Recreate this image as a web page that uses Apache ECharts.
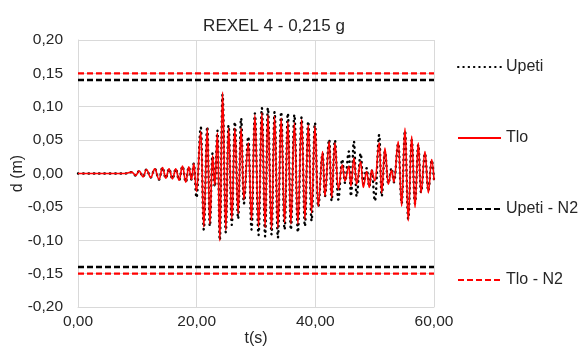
<!DOCTYPE html>
<html>
<head>
<meta charset="utf-8">
<script src="https://cdn.jsdelivr.net/npm/echarts@6/dist/echarts.min.js"></script>
<style>
html,body{margin:0;padding:0;background:#fff;}
#c{width:582px;height:349px;}
</style>
</head>
<body>
<div id="c"></div>
<script>
// Time (s) of read extremes
const timeS = [0, 7.88, 9.06, 9.73, 10.32, 10.96, 11.54, 12.26, 12.94, 13.66,
  14.24, 14.79, 15.35, 15.92, 16.48, 17.04, 17.61, 18.17, 18.67, 19.13,
  19.52, 19.97, 20.70, 21.20, 21.79, 22.22, 22.67, 23.06, 23.51, 23.90,
  24.36, 24.91, 25.37, 25.93, 26.43, 26.99, 27.49, 27.95, 28.71, 29.25,
  29.81, 30.43, 30.99, 31.54, 32.00, 32.62, 33.13, 33.69, 34.24, 34.82,
  35.37, 35.88, 36.47, 37.06, 37.68, 38.24, 38.80, 39.37, 39.93, 40.48,
  41.23, 41.61, 42.34, 42.74, 43.30, 43.86, 44.53, 44.99, 45.66, 46.00,
  46.50, 46.96, 47.64, 48.07, 48.65, 49.09, 49.49, 50.05, 50.77, 51.18,
  51.73, 52.29, 52.86, 53.25, 53.98, 54.55, 55.11, 55.66, 56.24, 56.80,
  57.35, 57.81, 58.48, 59.04, 59.61, 60.00];
// Tlo displacement (m)
const tlo = [0, 0, 0.002, -0.003, 0.004, -0.005, 0.006, -0.006, 0.007, -0.009,
  0.009, -0.007, 0.007, -0.008, 0.007, -0.010, 0.011, -0.013, 0.010, -0.009,
  0.015, -0.027, 0.063, -0.080, 0.068, -0.076, 0.027, -0.018, 0.061, -0.101,
  0.122, -0.085, 0.068, -0.068, 0.068, -0.060, 0.068, -0.039, 0.046, -0.070,
  0.088, -0.080, 0.091, -0.081, 0.088, -0.084, 0.086, -0.082, 0.083, -0.074,
  0.078, -0.076, 0.076, -0.076, 0.081, -0.069, 0.073, -0.059, 0.071, -0.049,
  0.033, -0.034, 0.048, -0.036, 0.046, -0.024, 0.013, -0.011, 0.011, -0.019,
  0.023, -0.016, 0.018, -0.021, 0.003, -0.021, 0.005, -0.011, 0.046, -0.029,
  0.038, -0.016, 0.005, -0.013, 0.048, -0.049, 0.068, -0.071, 0.056, -0.051,
  0.046, -0.029, 0.033, -0.029, 0.021, -0.010];
// Upeti displacement (m)
const upeti = [0, 0, 0.002, -0.003, 0.004, -0.005, 0.006, -0.006, 0.007, -0.009,
  0.009, -0.007, 0.007, -0.008, 0.007, -0.010, 0.011, -0.013, 0.010, -0.009,
  0.015, -0.036, 0.069, -0.084, 0.070, -0.079, 0.030, -0.020, 0.064, -0.100,
  0.118, -0.088, 0.072, -0.077, 0.077, -0.068, 0.083, -0.045, 0.055, -0.084,
  0.090, -0.092, 0.098, -0.094, 0.098, -0.091, 0.092, -0.096, 0.092, -0.084,
  0.090, -0.084, 0.088, -0.088, 0.084, -0.079, 0.078, -0.071, 0.076, -0.050,
  0.030, -0.034, 0.051, -0.041, 0.050, -0.039, 0.021, -0.014, 0.033, -0.034,
  0.048, -0.034, 0.030, -0.015, 0.008, -0.020, 0.005, -0.041, 0.058, -0.034,
  0.033, -0.015, 0.008, -0.013, 0.045, -0.045, 0.064, -0.068, 0.050, -0.045,
  0.043, -0.028, 0.030, -0.026, 0.020, -0.010];
// N2 limit lines
const limitTime = [0, 60];
const upetiN2 = 0.14;
const tloN2 = 0.15;
const seriesNames = ['Upeti', 'Tlo', 'Upeti - N2', 'Tlo - N2'];
const titleText = 'REXEL 4 - 0,215 g';
const xName = 't(s)';
const yName = 'd (m)';

const zip = (xs, ys) => xs.map((x, i) => [x, ys[i]]);
const flat = (v) => limitTime.map(x => [x, v]);
const FONT = 'Liberation Sans, Arial, sans-serif';
const TXT = '#262626';
const GRID = '#D9D9D9';

const chart = echarts.init(document.getElementById('c'), null, {renderer: 'canvas'});
const dotted = {color: '#000', width: 2.4, type: [0.5, 4.8], cap: 'round'};
const redSolid = {color: '#FF0000', width: 1.6};
const blackDash = {color: '#000', width: 2.4, type: [6, 3]};
const redDash = {color: '#FF0000', width: 2.4, type: [6, 3]};

chart.setOption({
  animation: false,
  title: {
    text: titleText, left: 269, top: 13, textAlign: 'center',
    textStyle: {fontFamily: FONT, fontSize: 17, fontWeight: 'normal', color: TXT}
  },
  grid: {left: 78, right: 148, top: 40, bottom: 42, containLabel: false, outerBoundsMode: 'none'},
  legend: {
    orient: 'vertical', left: 457, top: 59, padding: 0, itemWidth: 43, itemHeight: 14, itemGap: 55,
    data: seriesNames,
    itemStyle: {opacity: 0},
    textStyle: {fontFamily: FONT, fontSize: 16, color: TXT}
  },
  xAxis: {
    type: 'value', min: 0, max: 60, interval: 20,
    name: xName, nameLocation: 'middle', nameGap: 24, nameMoveOverlap: false,
    nameTextStyle: {fontFamily: FONT, fontSize: 16, color: TXT},
    axisLine: {show: true, onZero: false, lineStyle: {color: GRID}},
    axisTick: {show: false},
    axisLabel: {fontFamily: FONT, fontSize: 15.5, color: TXT, margin: 7,
      formatter: v => v.toFixed(2).replace('.', ',')},
    splitLine: {show: true, lineStyle: {color: GRID, width: 1}}
  },
  yAxis: {
    type: 'value', min: -0.2, max: 0.2, interval: 0.05,
    name: yName, nameLocation: 'middle', nameGap: 52, nameMoveOverlap: false,
    nameTextStyle: {fontFamily: FONT, fontSize: 16, color: TXT},
    axisLine: {show: true, lineStyle: {color: GRID}},
    axisTick: {show: false},
    axisLabel: {fontFamily: FONT, fontSize: 15.5, color: TXT, margin: 15,
      formatter: v => v.toFixed(2).replace('.', ',')},
    splitLine: {show: true, lineStyle: {color: GRID, width: 1}}
  },
  series: [
    {name: seriesNames[0], type: 'line', data: zip(timeS, upeti), symbol: 'none',
     smooth: 0.4, smoothMonotone: 'x', lineStyle: dotted, itemStyle: {color: '#000'}, z: 3},
    {name: seriesNames[1], type: 'line', data: zip(timeS, tlo), symbol: 'none',
     smooth: 0.4, smoothMonotone: 'x', lineStyle: redSolid, itemStyle: {color: '#FF0000'}, z: 4},
    {name: seriesNames[2], type: 'line', data: flat(upetiN2), symbol: 'none', lineStyle: blackDash, itemStyle: {color: '#000'}, z: 2},
    {name: seriesNames[2], type: 'line', data: flat(-upetiN2), symbol: 'none', lineStyle: blackDash, itemStyle: {color: '#000'}, z: 2},
    {name: seriesNames[3], type: 'line', data: flat(tloN2), symbol: 'none', lineStyle: redDash, itemStyle: {color: '#FF0000'}, z: 2},
    {name: seriesNames[3], type: 'line', data: flat(-tloN2), symbol: 'none', lineStyle: redDash, itemStyle: {color: '#FF0000'}, z: 2}
  ]
});
</script>
</body>
</html>
